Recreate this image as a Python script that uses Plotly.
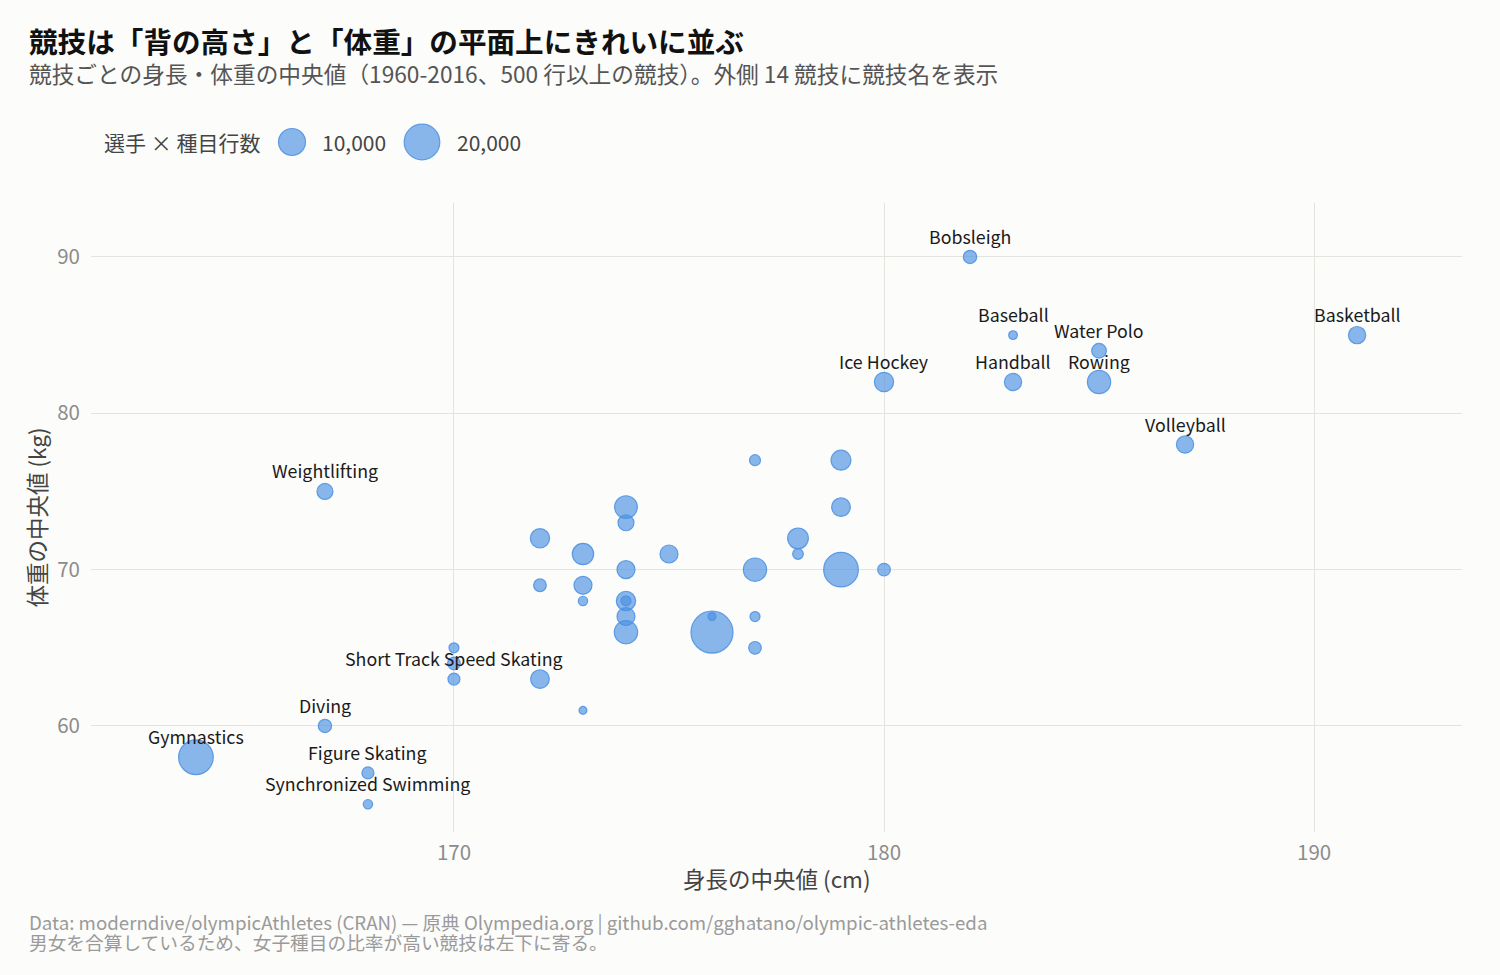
import numpy as np
import plotly.graph_objects as go

# --- data -------------------------------------------------------------------
sports = [
    "Bobsleigh", "Baseball", "Water Polo", "Basketball", "Ice Hockey",
    "Handball", "Rowing", "Volleyball", "Weightlifting",
    "Short Track Speed Skating", "Diving", "Gymnastics", "Figure Skating",
    "Synchronized Swimming",
    "", "", "", "", "", "", "", "", "", "", "", "", "", "", "", "", "",
    "", "", "", "", "", "", "", "", "", "", "", "",
]
height_cm = [
    182, 183, 185, 191, 180, 183, 185, 187, 167, 170, 167, 164, 168, 168,
    177, 179, 174, 179, 174, 172, 178, 173, 175, 178, 174, 177, 179, 180,
    172, 173, 173, 174, 174, 174, 174, 176, 176, 177, 177, 170, 170, 172,
    173,
]
weight_kg = [
    90, 85, 84, 85, 82, 82, 82, 78, 75, 63, 60, 58, 57, 55,
    77, 77, 74, 74, 73, 72, 72, 71, 71, 71, 70, 70, 70, 70,
    69, 69, 68, 68, 68, 67, 66, 67, 66, 67, 65, 65, 64, 63,
    61,
]
n_rows = [
    1440, 570, 1900, 3000, 4100, 3000, 6800, 3000, 2430, 1100, 1440, 18700,
    1100, 630,
    880, 4500, 6400, 3750, 2430, 4100, 5000, 5400, 3380, 820, 3380, 6800,
    18700, 1270, 1270, 3380, 630, 4100, 714, 3380, 6800, 520, 29650, 714,
    1270, 714, 1270, 3750, 520,
]
legend_rows = [10000, 20000]
legend_labels = ["10,000", "20,000"]

TITLE = "競技は「背の高さ」と「体重」の平面上にきれいに並ぶ"
SUBTITLE = "競技ごとの身長・体重の中央値（1960-2016、500 行以上の競技）。外側 14 競技に競技名を表示"
CAPTION1 = "Data: moderndive/olympicAthletes (CRAN) — 原典 Olympedia.org | github.com/gghatano/olympic-athletes-eda"
CAPTION2 = "男女を合算しているため、女子種目の比率が高い競技は左下に寄る。"
X_TITLE = "身長の中央値 (cm)"
Y_TITLE = "体重の中央値 (kg)"

# --- styling ----------------------------------------------------------------
FONT = "Noto Sans CJK JP"
BG = "#fcfcfa"
BLUE = "74,144,226"
W, H = 1500, 975
L, R, T, B = 91, 38, 203, 143


def diam(n):
    # ggplot-like area scale: sqrt of rows above the 500-row floor
    return 7 + 0.205 * np.sqrt(np.maximum(np.asarray(n, float) - 500, 0))


def px(x):
    return (x - L) / (W - L - R)


def py(y):
    return (H - B - y) / (H - T - B)


order = np.argsort(n_rows)[::-1]
hx = np.array(height_cm)[order]
wy = np.array(weight_kg)[order]
nr = np.array(n_rows)[order]

fig = go.Figure()
fig.add_trace(go.Scatter(
    x=hx, y=wy, mode="markers",
    marker=dict(size=diam(nr), sizemode="diameter", sizeref=1, opacity=1,
                color=f"rgba({BLUE},0.65)",
                line=dict(color=f"rgba({BLUE},0.85)", width=1.2)),
    text=[sports[i] for i in order], customdata=nr,
    hovertemplate="%{text}<br>%{x} cm, %{y} kg<br>%{customdata:,} 行<extra></extra>",
    showlegend=False,
))

ann = []
for s, x, y in zip(sports, height_cm, weight_kg):
    if not s:
        continue
    ann.append(dict(x=x, y=y, text=s, showarrow=False, yshift=21,
                    xanchor="center", yanchor="middle",
                    font=dict(family=FONT, size=17.8, color="#1a1a1a")))


def note(x, y, text, size, color, anchor="left"):
    return dict(xref="paper", yref="paper", x=px(x - 3 if anchor == "left" else x),
                y=py(y), text=text, showarrow=False, xanchor=anchor,
                yanchor="middle", font=dict(family=FONT, size=size, color=color))


# title / subtitle / caption
ann.append(note(30, 40, f"<b>{TITLE}</b>", 28.6, "#111111"))
ann.append(note(30, 73, SUBTITLE, 22.7, "#555555"))
ann.append(note(30, 921.5, CAPTION1, 18.7, "#9a9a9a"))
ann.append(note(30, 941, CAPTION2, 18.7, "#9a9a9a"))
ann.append(note((L + W - R) / 2, 878, X_TITLE, 22.5, "#444444", anchor="center"))

# size legend
ann.append(note(105, 142, "選手 × 種目行数", 21, "#444444"))
shapes = []
for cx, n, lab, tx in zip([292, 422], legend_rows, legend_labels, [323, 458]):
    d = float(diam(n))
    shapes.append(dict(type="circle", xref="paper", yref="paper",
                       xsizemode="pixel", ysizemode="pixel",
                       xanchor=px(cx), yanchor=py(142),
                       x0=-d / 2, x1=d / 2, y0=-d / 2, y1=d / 2,
                       fillcolor=f"rgba({BLUE},0.65)",
                       line=dict(color=f"rgba({BLUE},0.85)", width=1.2)))
    ann.append(note(tx, 142, lab, 21, "#444444"))

axis_common = dict(showgrid=True, gridcolor="#e4e4df", gridwidth=1.3,
                   zeroline=False, showline=False, ticks="",
                   tickfont=dict(family=FONT, size=20.5, color="#8c8c8c"))

fig.update_layout(
    width=W, height=H,
    margin=dict(l=L, r=R, t=T, b=B, autoexpand=False),
    paper_bgcolor=BG, plot_bgcolor=BG,
    font=dict(family=FONT),
    xaxis=dict(range=[161.56, 193.44], tickvals=[170, 180, 190],
               ticklabelstandoff=6, **axis_common),
    yaxis=dict(range=[53.22, 93.45], tickvals=[60, 70, 80, 90],
               ticklabelstandoff=10,
               title=dict(text=Y_TITLE, standoff=4,
                          font=dict(family=FONT, size=22.5, color="#444444")),
               **axis_common),
    annotations=ann,
    shapes=shapes,
)

fig.write_html(
    "out.html",
    config={"displayModeBar": False},
    post_script=f"document.body.style.margin='0';document.body.style.background='{BG}';",
)
